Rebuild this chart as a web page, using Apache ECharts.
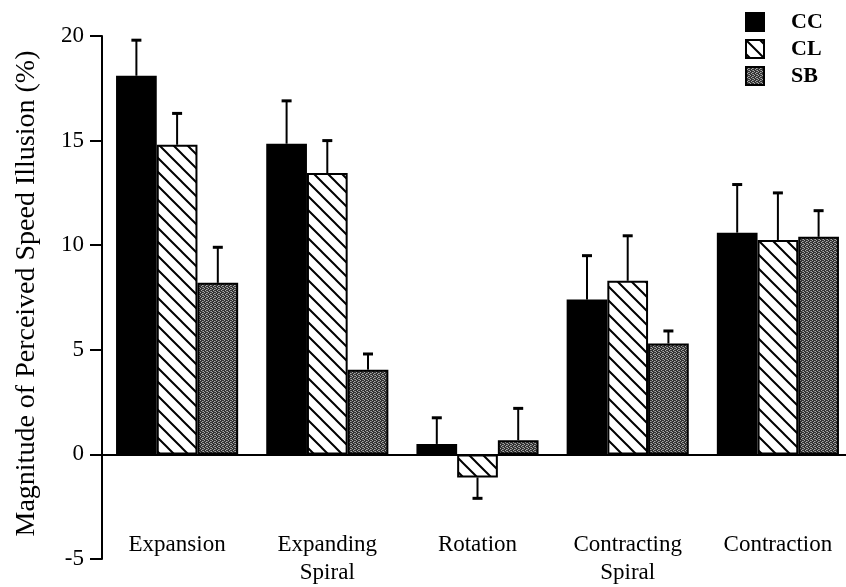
<!DOCTYPE html>
<html>
<head>
<meta charset="utf-8">
<script src="https://cdn.jsdelivr.net/npm/echarts@6/dist/echarts.min.js"></script>
<style>
html,body{margin:0;padding:0;background:#fff;overflow:hidden;width:846px;height:587px;}
#chart{width:853px;height:587px;}
</style>
</head>
<body>
<div id="chart"></div>
<script>
var categories = ['Expansion', 'Expanding\nSpiral', 'Rotation', 'Contracting\nSpiral', 'Contraction'];
var seriesNames = ['CC', 'CL', 'SB'];
var ccValues = [18.1, 14.85, 0.5, 7.4, 10.6];
var clValues = [14.8, 13.45, -1.1, 8.3, 10.25];
var sbValues = [8.2, 4.05, 0.68, 5.3, 10.4];
var ccErr = [1.7, 2.05, 1.25, 2.1, 2.3];
var clErr = [1.5, 1.55, 1.0, 2.15, 2.25];
var sbErr = [1.7, 0.75, 1.52, 0.6, 1.25];
var yTicks = { min: -5, max: 20, interval: 5 };

var FONT = 'Liberation Serif';
var CAT_GAP = 0.187;

function hatchPattern() {
  var s = 14, c = document.createElement('canvas');
  c.width = s; c.height = s;
  var g = c.getContext('2d');
  g.fillStyle = '#fff'; g.fillRect(0, 0, s, s);
  g.strokeStyle = '#000'; g.lineWidth = 2;
  g.beginPath();
  g.moveTo(-2, -2); g.lineTo(s + 2, s + 2);
  g.moveTo(-2 - s, -2); g.lineTo(2, s + 2);
  g.moveTo(s - 2, -2); g.lineTo(2 * s + 2, s + 2);
  g.stroke();
  return c;
}
function stipplePattern() {
  var c = document.createElement('canvas');
  c.width = 4; c.height = 4;
  var g = c.getContext('2d');
  g.fillStyle = '#333'; g.fillRect(0, 0, 4, 4);
  g.fillStyle = '#aaa';
  g.fillRect(0, 0, 1, 1); g.fillRect(2, 1, 1, 1); g.fillRect(1, 2, 1, 1); g.fillRect(3, 3, 1, 1);
  g.fillStyle = '#777';
  g.fillRect(2, 3, 1, 1); g.fillRect(3, 1, 1, 1);
  return c;
}

var fills = [
  '#000',
  { image: hatchPattern(), repeat: 'repeat' },
  { image: stipplePattern(), repeat: 'repeat' }
];
var valueSets = [ccValues, clValues, sbValues];
var errSets = [ccErr, clErr, sbErr];

function errRenderer(idx) {
  return function (params, api) {
    var ci = api.value(0), v = api.value(1), e = api.value(2);
    var end = v >= 0 ? v + e : v - e;
    var p0 = api.coord([ci, v]);
    var p1 = api.coord([ci, end]);
    var band = api.size([1, 0])[0];
    var bw = band * (1 - CAT_GAP) / 3;
    var x = p0[0] + (idx - 1) * bw;
    return {
      type: 'group',
      children: [
        { type: 'line', shape: { x1: x, y1: p0[1], x2: x, y2: p1[1] }, style: { stroke: '#000', lineWidth: 2 } },
        { type: 'line', shape: { x1: x - 5, y1: p1[1], x2: x + 5, y2: p1[1] }, style: { stroke: '#000', lineWidth: 3 } }
      ]
    };
  };
}

var series = [];
for (var i = 0; i < 3; i++) {
  series.push({
    name: seriesNames[i],
    type: 'bar',
    data: valueSets[i],
    barGap: '0%',
    barCategoryGap: (CAT_GAP * 100) + '%',
    itemStyle: { color: fills[i], borderColor: '#000', borderWidth: 2 },
    z: 2
  });
}
for (var j = 0; j < 3; j++) {
  series.push({
    name: seriesNames[j] + ' err',
    type: 'custom',
    renderItem: errRenderer(j),
    data: valueSets[j].map(function (v, k) { return [k, v, errSets[j][k]]; }),
    encode: { x: 0, y: 1 },
    z: 3,
    silent: true
  });
}

var chart = echarts.init(document.getElementById('chart'), null, { renderer: 'canvas' });
chart.setOption({
  animation: false,
  backgroundColor: '#fff',
  grid: { left: 102, right: 0, top: 36, bottom: 26, containLabel: false },
  legend: {
    data: seriesNames,
    orient: 'vertical',
    left: 740,
    top: 6,
    icon: 'rect',
    itemWidth: 18,
    itemHeight: 18,
    itemGap: 5,
    textStyle: { fontFamily: FONT, fontWeight: 'bold', fontSize: 22, color: '#000', padding: [0, 0, 0, 22] },
    selectedMode: false
  },
  xAxis: [
    {
      type: 'category',
      data: categories,
      axisLine: { onZero: true, lineStyle: { color: '#000', width: 2 } },
      axisTick: { show: false },
      axisLabel: { show: false },
      splitLine: { show: false }
    },
    {
      type: 'category',
      data: categories,
      position: 'bottom',
      axisLine: { show: false, onZero: false },
      axisTick: { show: false },
      axisLabel: { margin: -28, fontFamily: FONT, fontSize: 23, color: '#000', lineHeight: 28 },
      splitLine: { show: false }
    }
  ],
  yAxis: {
    type: 'value',
    min: yTicks.min,
    max: yTicks.max,
    interval: yTicks.interval,
    name: 'Magnitude of Perceived Speed Illusion (%)',
    nameLocation: 'middle',
    nameGap: 61,
    nameRotate: 90,
    nameTextStyle: { fontFamily: FONT, fontSize: 28, color: '#000', padding: [0, 0, 0, 8] },
    axisLine: { show: true, lineStyle: { color: '#000', width: 2 } },
    axisTick: { show: true, length: 12, lineStyle: { color: '#000', width: 2 } },
    axisLabel: { margin: 18, fontFamily: FONT, fontSize: 23, color: '#000' },
    splitLine: { show: false }
  },
  series: series
});
</script>
</body>
</html>
